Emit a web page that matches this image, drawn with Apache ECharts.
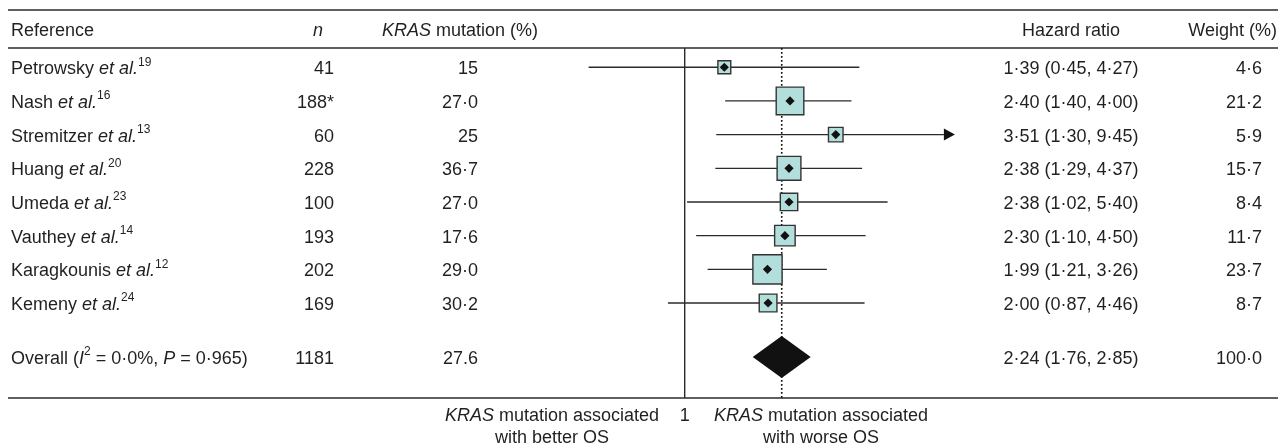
<!DOCTYPE html>
<html><head><meta charset="utf-8">
<script src="https://cdn.jsdelivr.net/npm/echarts@6/dist/echarts.min.js"></script>
<style>html,body{margin:0;padding:0;background:#fff}#c{width:1278px;height:443px}</style>
</head><body><div id="c"></div>
<script>
// ---------------- data ----------------
const studies = ['Petrowsky', 'Nash', 'Stremitzer', 'Huang', 'Umeda', 'Vauthey', 'Karagkounis', 'Kemeny'];
const refNumbers = ['19', '16', '13', '20', '23', '14', '12', '24'];
const nValues = ['41', '188*', '60', '228', '100', '193', '202', '169'];
const krasPct = ['15', '27·0', '25', '36·7', '27·0', '17·6', '29·0', '30·2'];
const hazardRatio = [1.39, 2.40, 3.51, 2.38, 2.38, 2.30, 1.99, 2.00];
const ciLower = [0.45, 1.40, 1.30, 1.29, 1.02, 1.10, 1.21, 0.87];
const ciUpper = [4.27, 4.00, 9.45, 4.37, 5.40, 4.50, 3.26, 4.46];
const weights = [4.6, 21.2, 5.9, 15.7, 8.4, 11.7, 23.7, 8.7];
const overall = { n: '1181', kras: '27.6', hr: 2.24, lo: 1.76, hi: 2.85, weight: 100.0, i2: '0·0', p: '0·965' };
const plotUpperLimit = 9.45; // CI upper limits at/above this get an arrow

// ---------------- layout ----------------
const L = {
  width: 1278, xOne: 684.7, pxPerLn: 120.3,
  rowMin: -0.7, rowMax: 10.82, gridTop: 10, gridBottom: 45,
  headerRow: -0.13, rules: [-0.7, 0.43, 10.82], overallRow: 9.6,
  ruleLeft: 8,
  colRef: 11, colN: 334, colNHead: 318, colKras: 478, colKrasHead: 382,
  colHr: 1071, colW: 1262, colWHead: 1277,
  footY1: 414, footY2: 436, footLeft: 552, footRight: 821,
  fs: 18, supFs: 12
};
const FONT = '"Liberation Sans", Arial, Helvetica, sans-serif';
const TXT = '#231f20';
const LINE = '#2b2b2b';
const BOX_FILL = '#b2dfdb';

const fmt2 = v => v.toFixed(2).replace('.', '·');
const fmt1 = v => v.toFixed(1).replace('.', '·');

const rich = {
  a: { fontSize: L.fs, fontFamily: FONT, fill: TXT, lineHeight: 22, verticalAlign: 'bottom' },
  i: { fontSize: L.fs, fontFamily: FONT, fill: TXT, fontStyle: 'italic', lineHeight: 22, verticalAlign: 'bottom' },
  s: { fontSize: L.supFs, fontFamily: FONT, fill: TXT, lineHeight: 10, verticalAlign: 'top' }
};

function txt(x, y, text, align) {
  return { type: 'text', x: x, y: y, style: { text: text, rich: rich, align: align, verticalAlign: 'middle', fill: TXT, fontSize: L.fs, fontFamily: FONT } };
}

// table rows built from arrays
const tableRows = studies.map((s, i) => ({
  row: i + 1,
  label: `{a|${s} }{i|et al.}{a|}{s|${refNumbers[i]}}`,
  n: `{a|${nValues[i]}}`,
  kras: `{a|${krasPct[i]}}`,
  hr: `{a|${fmt2(hazardRatio[i])} (${fmt2(ciLower[i])}, ${fmt2(ciUpper[i])})}`,
  w: `{a|${fmt1(weights[i])}}`
}));
tableRows.push({
  row: L.overallRow,
  label: `{a|Overall (}{i|I}{s|2}{a| = ${overall.i2}%, }{i|P}{a| = ${overall.p})}`,
  n: `{a|${overall.n}}`,
  kras: `{a|${overall.kras}}`,
  hr: `{a|${fmt2(overall.hr)} (${fmt2(overall.lo)}, ${fmt2(overall.hi)})}`,
  w: `{a|${fmt1(overall.weight)}}`
});

const xMin = Math.exp(-L.xOne / L.pxPerLn);
const xMax = Math.exp((L.width - L.xOne) / L.pxPerLn);

const chart = echarts.init(document.getElementById('c'));
chart.setOption({
  animation: false,
  grid: { left: 0, right: 0, top: L.gridTop, bottom: L.gridBottom, containLabel: false },
  xAxis: { type: 'log', min: xMin, max: xMax, show: false },
  yAxis: { type: 'value', inverse: true, min: L.rowMin, max: L.rowMax, show: false },
  series: [
    { // reference lines and table rules
      type: 'custom', silent: true, data: [[0]],
      renderItem: function (params, api) {
        const ch = [];
        L.rules.forEach(r => {
          const y = api.coord([1, r])[1];
          ch.push({ type: 'line', shape: { x1: L.ruleLeft, y1: y, x2: L.width, y2: y }, style: { stroke: LINE, lineWidth: 1.4 } });
        });
        const top = api.coord([1, L.rules[1]]), bot = api.coord([1, L.rules[2]]);
        ch.push({ type: 'line', shape: { x1: top[0], y1: top[1], x2: bot[0], y2: bot[1] }, style: { stroke: LINE, lineWidth: 1.4 } });
        const t2 = api.coord([overall.hr, L.rules[1]]), b2 = api.coord([overall.hr, L.rules[2]]);
        ch.push({ type: 'line', shape: { x1: t2[0], y1: t2[1], x2: b2[0], y2: b2[1] }, style: { stroke: '#111', lineWidth: 1.6, lineDash: [1.6, 2.4] } });
        return { type: 'group', children: ch };
      }
    },
    { // confidence intervals
      type: 'custom', silent: true,
      data: studies.map((s, i) => [ciLower[i], ciUpper[i], i + 1]),
      renderItem: function (params, api) {
        const lo = api.coord([api.value(0), api.value(2)]);
        const hi = api.coord([api.value(1), api.value(2)]);
        const ch = [];
        const arrow = api.value(1) >= plotUpperLimit;
        const xEnd = arrow ? hi[0] - 11 : hi[0];
        ch.push({ type: 'line', shape: { x1: lo[0], y1: lo[1], x2: xEnd, y2: hi[1] }, style: { stroke: LINE, lineWidth: 1.3 } });
        if (arrow) ch.push({ type: 'polygon', shape: { points: [[hi[0] - 11, hi[1] - 6], [hi[0], hi[1]], [hi[0] - 11, hi[1] + 6]] }, style: { fill: '#111' } });
        return { type: 'group', children: ch };
      }
    },
    { // weighted boxes
      type: 'custom', silent: true,
      data: studies.map((s, i) => [hazardRatio[i], i + 1, weights[i]]),
      renderItem: function (params, api) {
        const c = api.coord([api.value(0), api.value(1)]);
        const side = 6 * Math.sqrt(api.value(2));
        const d = 4.6;
        return { type: 'group', children: [
          { type: 'rect', shape: { x: c[0] - side / 2, y: c[1] - side / 2, width: side, height: side }, style: { fill: BOX_FILL, stroke: '#333', lineWidth: 1.4 } },
          { type: 'polygon', shape: { points: [[c[0] - d, c[1]], [c[0], c[1] - d], [c[0] + d, c[1]], [c[0], c[1] + d]] }, style: { fill: '#111' } }
        ] };
      }
    },
    { // pooled estimate diamond
      type: 'custom', silent: true,
      data: [[overall.lo, overall.hr, overall.hi, L.overallRow]],
      renderItem: function (params, api) {
        const r = api.value(3);
        const lo = api.coord([api.value(0), r]), mid = api.coord([api.value(1), r]), hi = api.coord([api.value(2), r]);
        const h = 21;
        return { type: 'polygon', shape: { points: [[lo[0], lo[1]], [mid[0], mid[1] - h], [hi[0], hi[1]], [mid[0], mid[1] + h]] }, style: { fill: '#111' } };
      }
    },
    { // table text
      type: 'custom', silent: true,
      data: tableRows.map(r => [r.row]),
      renderItem: function (params, api) {
        const r = tableRows[params.dataIndex];
        const y = api.coord([1, api.value(0)])[1];
        return { type: 'group', children: [
          txt(L.colRef, y, r.label, 'left'),
          txt(L.colN, y, r.n, 'right'),
          txt(L.colKras, y, r.kras, 'right'),
          txt(L.colHr, y, r.hr, 'center'),
          txt(L.colW, y, r.w, 'right')
        ] };
      }
    },
    { // header + footer text
      type: 'custom', silent: true, data: [[L.headerRow]],
      renderItem: function (params, api) {
        const y = api.coord([1, api.value(0)])[1];
        const x1 = api.coord([1, 0])[0];
        return { type: 'group', children: [
          txt(L.colRef, y, '{a|Reference}', 'left'),
          txt(L.colNHead, y, '{i|n}', 'center'),
          txt(L.colKrasHead, y, '{i|KRAS}{a| mutation (%)}', 'left'),
          txt(L.colHr, y, '{a|Hazard ratio}', 'center'),
          txt(L.colWHead, y, '{a|Weight (%)}', 'right'),
          txt(x1, L.footY1, '{a|1}', 'center'),
          txt(L.footLeft, L.footY1, '{i|KRAS}{a| mutation associated}', 'center'),
          txt(L.footLeft, L.footY2, '{a|with better OS}', 'center'),
          txt(L.footRight, L.footY1, '{i|KRAS}{a| mutation associated}', 'center'),
          txt(L.footRight, L.footY2, '{a|with worse OS}', 'center')
        ] };
      }
    }
  ]
});
</script>
</body></html>
